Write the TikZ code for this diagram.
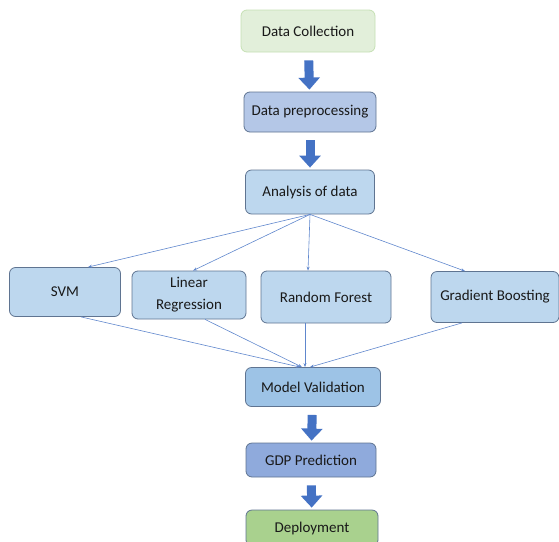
\documentclass[tikz,border=0pt]{standalone}
\usepackage{fontspec}
\setmainfont{Carlito}
\usetikzlibrary{arrows.meta, positioning, calc}

\definecolor{dcfill}{HTML}{E2EFDA}
\definecolor{dcdraw}{HTML}{C5E0B4}
\definecolor{dpfill}{HTML}{B4C7E7}
\definecolor{anfill}{HTML}{BDD7EE}
\definecolor{mvfill}{HTML}{9DC3E6}
\definecolor{gdpfill}{HTML}{8FAADC}
\definecolor{depfill}{HTML}{A9D18E}
\definecolor{boxdraw}{HTML}{5F7491}
\definecolor{flowblue}{HTML}{4472C4}

\begin{document}
\begin{tikzpicture}[
    x=1pt, y=-1pt,
    font=\fontsize{15}{22}\selectfont,
    box/.style={rectangle, rounded corners=6pt, draw=boxdraw, line width=0.8pt,
        inner sep=0pt, align=center, text=black!90},
    flowarrow/.style={line width=9pt, flowblue,
        -{Triangle[width=21pt, length=12pt]}, shorten <=8pt, shorten >=2pt},
    link/.style={-{Stealth[length=4pt, width=3pt]}, flowblue!85, line width=0.6pt}
]

% page frame
\useasboundingbox (0,0) rectangle (559,541);

% ===== Main pipeline =====
\node[box, fill=dcfill, draw=dcdraw, minimum width=134pt, minimum height=42pt]
    (collect) at (308,31) {Data Collection};
\node[box, fill=dpfill, minimum width=132pt, minimum height=40pt]
    (prep) at (310,112) {Data preprocessing};
\node[box, fill=anfill, minimum width=129pt, minimum height=44pt]
    (analysis) at (310,192) {Analysis of data};

% ===== Models =====
\node[box, fill=anfill, minimum width=111pt, minimum height=49pt]
    (svm) at (65,292) {SVM};
\node[box, fill=anfill, minimum width=114pt, minimum height=48pt]
    (linreg) at (189,295) {Linear\\Regression};
\node[box, fill=anfill, minimum width=130pt, minimum height=52pt]
    (forest) at (326,297) {Random Forest};
\node[box, fill=anfill, minimum width=128pt, minimum height=51pt]
    (boost) at (495,297) {Gradient Boosting};

% ===== Validation and output =====
\node[box, fill=mvfill, minimum width=135pt, minimum height=39pt]
    (valid) at (313,387) {Model Validation};
\node[box, fill=gdpfill, minimum width=130pt, minimum height=34pt]
    (gdp) at (311,460) {GDP Prediction};
\node[box, fill=depfill, minimum width=132pt, minimum height=36pt]
    (deploy) at (312,528) {Deployment};

% Block arrows
\draw[flowarrow] (collect) -- (prep);
\draw[flowarrow] (prep) -- (analysis);
\draw[flowarrow] (valid) -- (gdp);
\draw[flowarrow] (gdp) -- (deploy);

% Fan out to the models
\draw[link] (analysis.south) -- ([xshift=23pt]svm.north);
\draw[link] (analysis.south) -- ([xshift=4pt]linreg.north);
\draw[link] (analysis.south) -- ([xshift=-18pt]forest.north);
\draw[link] (analysis.south) -- ([xshift=-30pt]boost.north);

% Fan in to validation
\draw[link] ([xshift=16pt]svm.south) -- ([xshift=-13pt]valid.north);
\draw[link] ([xshift=16pt]linreg.south) -- ([xshift=-11pt]valid.north);
\draw[link] ([xshift=-21pt]forest.south) -- ([xshift=-8pt]valid.north);
\draw[link] ([xshift=-33pt]boost.south) -- ([xshift=-3pt]valid.north);

\end{tikzpicture}
\end{document}
